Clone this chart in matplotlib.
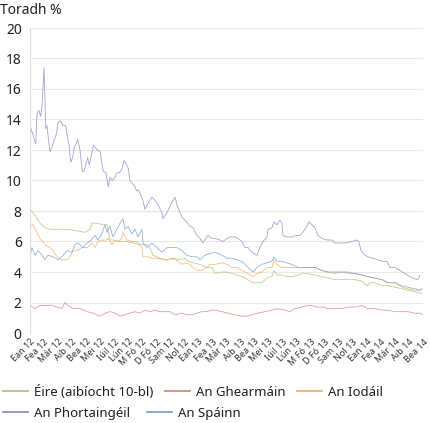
import matplotlib
matplotlib.use("Agg")
import matplotlib.pyplot as plt
from matplotlib.lines import Line2D

plt.rcParams['font.family'] = ['Noto Sans', 'DejaVu Sans']

# Month labels (one per month, Jan 2012 .. May 2014)
month_abbr = ["Ean", "Fea", "Már", "Aib", "Bea", "Mei", "Iúil", "Lún", "M Fó", "D Fó", "Sam", "Nol"]
tick_labels = [f"{month_abbr[i % 12]} {12 + i // 12}" for i in range(29)]

# Time of observation in months since start of Jan 2012, and yield %
pt_t = [0.07, 0.41, 0.50, 0.64, 0.76, 0.85, 1.0, 1.07, 1.12, 1.21, 1.35, 1.42, 1.57, 1.78, 1.90, 1.99, 2.19, 2.35, 2.54, 2.69,
        2.78, 2.90, 3.04, 3.13, 3.28, 3.40, 3.56, 3.73, 3.85, 3.99, 4.11, 4.22, 4.34, 4.51, 4.63, 4.79, 4.99, 5.11, 5.22, 5.41,
        5.58, 5.70, 5.86, 6.05, 6.18, 6.34, 6.46, 6.60, 6.70, 6.84, 7.00, 7.12, 7.31, 7.48, 7.60, 7.71, 7.83, 8.05, 8.19, 8.40,
        8.69, 8.90, 9.12, 9.40, 9.47, 9.76, 9.97, 10.19, 10.33, 10.54, 10.83, 11.04, 11.40, 11.61, 11.89, 12.11, 12.32, 12.46,
        12.68, 12.96, 13.18, 13.53, 13.75, 14.03, 14.25, 14.60, 14.81, 15.10, 15.31, 15.53, 15.81, 16.17, 16.38, 16.60, 16.88,
        16.95, 17.24, 17.38, 17.59, 17.81, 17.95, 18.02, 18.30, 18.66, 19.02, 19.23, 19.44, 19.73, 19.87, 20.09, 20.30, 20.51,
        20.80, 21.15, 21.51, 21.72, 22.08, 22.44, 22.93, 23.29, 23.43, 23.58, 23.86, 24.07, 24.43, 24.79, 25.14, 25.43, 25.64,
        26.00, 26.35, 26.71, 27.07, 27.28, 27.56, 27.71, 27.78]
pt_y = [13.4, 12.4, 14.4, 14.6, 14.2, 14.8, 17.4, 15.1, 13.4, 13.6, 12.4, 11.9, 12.2, 12.8, 13.1, 13.8, 13.9, 13.6, 13.6, 12.7,
        12.4, 11.2, 11.5, 12.1, 12.4, 12.7, 12.0, 10.6, 10.6, 11.1, 11.5, 11.0, 11.5, 12.3, 12.2, 12.0, 11.9, 11.2, 10.6, 10.5,
        9.6, 10.2, 10.0, 10.2, 10.5, 10.5, 10.6, 10.9, 11.3, 11.1, 10.8, 10.0, 9.8, 9.6, 9.3, 9.4, 9.2, 8.7, 8.1, 8.5,
        8.9, 8.7, 8.4, 7.9, 7.5, 7.9, 8.3, 8.7, 8.9, 8.2, 7.6, 7.4, 7.0, 6.9, 6.4, 6.2, 5.9, 6.1,
        6.4, 6.2, 6.2, 6.1, 6.0, 6.2, 6.3, 6.3, 6.2, 6.0, 5.6, 5.6, 5.3, 5.1, 5.6, 6.0, 6.3,
        6.8, 6.9, 7.3, 7.1, 7.4, 7.2, 6.4, 6.3, 6.3, 6.4, 6.4, 6.6, 7.0, 7.3, 7.1, 6.9, 6.4,
        6.2, 6.1, 6.1, 5.9, 5.9, 5.9, 6.0, 6.1, 6.0, 5.4, 5.1, 5.0, 4.9, 4.8, 4.7, 4.7, 4.3,
        4.3, 4.1, 3.9, 3.7, 3.6, 3.5, 3.6, 3.8]

es_t = [0.0, 0.14, 0.36, 0.57, 0.85, 1.07, 1.28, 1.64, 1.99, 2.28, 2.64, 2.99, 3.21, 3.42, 3.77, 4.06, 4.27, 4.63, 4.84, 5.13,
        5.34, 5.48, 5.70, 5.91, 6.20, 6.41, 6.62, 6.77, 6.98, 7.26, 7.48, 7.69, 7.98, 8.05, 8.33, 8.69, 9.05, 9.40, 9.76, 10.11,
        10.47, 10.83, 11.18, 11.54, 11.89, 12.11, 12.46, 12.82, 13.18, 13.68, 14.03, 14.39, 14.74, 15.10, 15.53, 15.88, 16.17,
        16.52, 16.88, 17.24, 17.38, 17.59, 17.95, 18.30, 18.66, 19.09, 19.44, 19.80, 20.30, 20.80, 21.23, 21.72, 22.22, 22.65,
        23.15, 23.65, 24.07, 24.57, 25.07, 25.50, 26.00, 26.50, 26.92, 27.42, 27.78, 27.92]
es_y = [5.0, 5.6, 5.1, 5.4, 5.1, 4.8, 5.1, 5.0, 4.8, 5.0, 5.4, 5.3, 5.8, 5.9, 5.6, 5.9, 6.0, 6.4, 6.1, 6.5,
        7.1, 6.6, 7.0, 6.3, 6.8, 7.2, 7.5, 6.8, 7.0, 6.5, 6.8, 6.3, 6.8, 5.9, 5.6, 5.9, 5.6, 5.3, 5.6, 5.6,
        5.6, 5.4, 5.1, 5.0, 5.0, 4.8, 5.1, 5.2, 5.3, 5.1, 4.9, 4.9, 4.8, 4.7, 4.3, 4.0, 4.3,
        4.5, 4.6, 4.7, 5.0, 4.7, 4.7, 4.6, 4.5, 4.3, 4.3, 4.3, 4.3, 4.1, 4.0, 4.0, 4.0, 4.0,
        3.9, 3.8, 3.7, 3.6, 3.5, 3.3, 3.3, 3.1, 3.0, 2.9, 2.8, 2.9]

it_t = [0.0, 0.21, 0.50, 0.71, 1.07, 1.42, 1.64, 1.92, 2.28, 2.64, 2.85, 3.06, 3.35, 3.70, 4.06, 4.42, 4.63, 4.84, 5.13, 5.34,
        5.56, 5.84, 6.05, 6.27, 6.55, 6.62, 6.91, 7.26, 7.62, 7.98, 8.05, 8.40, 8.76, 9.12, 9.47, 9.83, 10.19, 10.54, 10.83,
        11.04, 11.40, 11.61, 11.89, 12.25, 12.61, 12.82, 13.18, 13.68, 14.03, 14.39, 14.74, 15.10, 15.53, 15.88, 16.17, 16.52,
        16.88, 17.24, 17.38, 17.59, 17.95, 18.30, 18.66, 19.09, 19.44, 19.80, 20.30, 20.80, 21.23, 21.72, 22.22, 22.65, 23.15,
        23.65, 24.07, 24.57, 25.07, 25.50, 26.00, 26.50, 26.92, 27.42, 27.78, 27.92]
it_y = [7.0, 7.1, 6.6, 6.2, 5.8, 5.6, 5.4, 5.0, 4.8, 4.8, 5.0, 5.4, 5.4, 5.6, 5.6, 5.9, 5.6, 6.0, 6.1, 6.0,
        6.2, 5.8, 6.1, 6.0, 6.2, 6.6, 6.1, 6.0, 6.0, 5.6, 5.0, 5.0, 4.9, 4.9, 4.8, 4.8, 4.9, 4.7, 4.5,
        4.6, 4.5, 4.3, 4.1, 4.1, 4.3, 4.5, 4.5, 4.6, 4.5, 4.3, 4.3, 4.1, 3.9, 3.7, 3.9, 4.0,
        4.3, 4.3, 4.8, 4.5, 4.3, 4.3, 4.3, 4.3, 4.3, 4.3, 4.3, 4.1, 4.0, 3.9, 4.0, 3.9, 3.9,
        3.8, 3.7, 3.6, 3.5, 3.3, 3.3, 3.0, 2.9, 2.8, 2.8, 2.9]

ie_t = [0.0, 0.21, 0.50, 0.71, 1.07, 1.42, 1.92, 2.64, 3.35, 3.92, 4.27, 4.42, 4.77, 5.20, 5.48, 5.70, 5.91, 6.41, 6.91, 7.34,
        7.83, 8.33, 8.55, 8.76, 9.05, 9.26, 9.76, 10.19, 10.68, 11.04, 11.25, 11.61, 12.11, 12.61, 12.96, 13.18, 13.68, 14.03,
        14.39, 14.74, 15.10, 15.53, 15.88, 16.17, 16.52, 16.88, 17.24, 17.38, 17.59, 17.95, 18.30, 18.66, 19.09, 19.44, 19.80,
        20.30, 20.80, 21.23, 21.72, 22.22, 22.65, 23.15, 23.65, 24.00, 24.22, 24.57, 25.07, 25.50, 26.00, 26.50, 26.92, 27.42,
        27.92]
ie_y = [8.1, 7.9, 7.5, 7.2, 6.9, 6.8, 6.8, 6.8, 6.7, 6.6, 6.8, 7.2, 7.2, 7.1, 7.1, 6.1, 6.1, 6.0, 6.0, 5.9,
        5.8, 5.8, 5.6, 5.1, 5.0, 4.9, 4.8, 4.9, 4.8, 4.9, 4.7, 4.6, 4.5, 4.3, 4.3, 3.9, 4.0, 4.0,
        3.9, 3.8, 3.7, 3.5, 3.3, 3.3, 3.3, 3.6, 3.7, 4.1, 3.8, 3.8, 3.7, 3.7, 3.8, 3.9, 3.9,
        3.8, 3.7, 3.6, 3.5, 3.5, 3.5, 3.5, 3.4, 3.1, 3.3, 3.3, 3.1, 3.1, 3.0, 2.9, 2.8, 2.7,
        2.6]

de_t = [0.0, 0.36, 0.71, 1.21, 1.57, 1.92, 2.28, 2.49, 2.71, 3.06, 3.56, 4.06, 4.49, 4.99, 5.34, 5.70, 6.05, 6.41, 6.77, 7.12,
        7.48, 7.83, 8.19, 8.55, 8.90, 9.26, 9.62, 9.97, 10.33, 10.83, 11.18, 11.54, 11.89, 12.25, 12.61, 12.96, 13.18, 13.68,
        14.10, 14.60, 15.10, 15.46, 15.81, 16.24, 16.74, 17.24, 17.66, 18.16, 18.52, 18.87, 19.37, 19.73, 20.09, 20.44, 20.80,
        21.23, 21.72, 22.22, 22.65, 23.15, 23.65, 24.07, 24.57, 25.07, 25.50, 26.00, 26.50, 26.92, 27.42, 27.78, 27.99]
de_y = [1.8, 1.6, 1.8, 1.8, 1.8, 1.7, 1.6, 2.0, 1.8, 1.6, 1.6, 1.4, 1.3, 1.1, 1.3, 1.4, 1.3, 1.1, 1.2, 1.3,
        1.4, 1.3, 1.5, 1.4, 1.5, 1.4, 1.4, 1.4, 1.2, 1.3, 1.2, 1.2, 1.3, 1.4, 1.4, 1.5, 1.5, 1.4,
        1.3, 1.2, 1.1, 1.1, 1.2, 1.3, 1.4, 1.5, 1.6, 1.5, 1.4, 1.6, 1.7, 1.8, 1.8, 1.7, 1.7,
        1.6, 1.6, 1.6, 1.7, 1.7, 1.8, 1.6, 1.6, 1.5, 1.5, 1.4, 1.4, 1.4, 1.3, 1.3, 1.2]

series_names = ["Éire (aibíocht 10-bl)", "An Ghearmáin", "An Iodáil", "An Phortaingéil", "An Spáinn"]
colors = ["#a5c46a", "#e07b7b", "#f2a85a", "#9180c8", "#6f9bd6"]
y_ticks = [0, 2, 4, 6, 8, 10, 12, 14, 16, 18, 20]

fig = plt.figure(figsize=(4.30, 4.23), dpi=100)
ax = fig.add_axes([30 / 430, 1 - 333 / 423, 393 / 430, 305 / 423])

data = [(ie_t, ie_y), (de_t, de_y), (it_t, it_y), (pt_t, pt_y), (es_t, es_y)]
for (t, y), c in zip(data, colors):
    ax.plot(t, y, color=c, lw=0.6, alpha=0.75)

ax.set_xlim(0, 28)
ax.set_ylim(0, 20)
ax.set_yticks(y_ticks)
ax.set_yticklabels([str(v) for v in y_ticks], fontsize=10, color="#222222")
ax.set_xticks(range(29))
ax.set_xticklabels(tick_labels, rotation=45, ha="right", rotation_mode="anchor", fontsize=6.5, color="#333333")
ax.tick_params(axis="both", length=0)
ax.tick_params(axis="y", pad=6)
ax.tick_params(axis="x", pad=3)
ax.grid(axis="y", color="#e8e8e8", lw=0.8)
ax.set_axisbelow(True)
for s in ["top", "right", "bottom"]:
    ax.spines[s].set_visible(False)
ax.spines["left"].set_color("#dddddd")
ax.spines["left"].set_linewidth(0.8)

fig.text(0.0, 1 - 10 / 423, "Toradh %", fontsize=10, va="center", ha="left", color="#222222")

h = [Line2D([], [], color=c, lw=1.2) for c in colors]
leg1 = fig.legend(h[:3], series_names[:3], loc="center left", bbox_to_anchor=(0.0, 1 - 392 / 423), ncol=3,
                  frameon=False, fontsize=9.5, handlelength=1.9, handletextpad=0.45, columnspacing=0.9,
                  borderaxespad=0, borderpad=0.2)
leg2 = fig.legend(h[3:], series_names[3:], loc="center left", bbox_to_anchor=(0.0, 1 - 413 / 423), ncol=2,
                  frameon=False, fontsize=9.5, handlelength=1.9, handletextpad=0.45, columnspacing=1.3,
                  borderaxespad=0, borderpad=0.2)
for lg in (leg1, leg2):
    for t in lg.get_texts():
        t.set_color("#222222")

fig.savefig("out.png", dpi=100)
